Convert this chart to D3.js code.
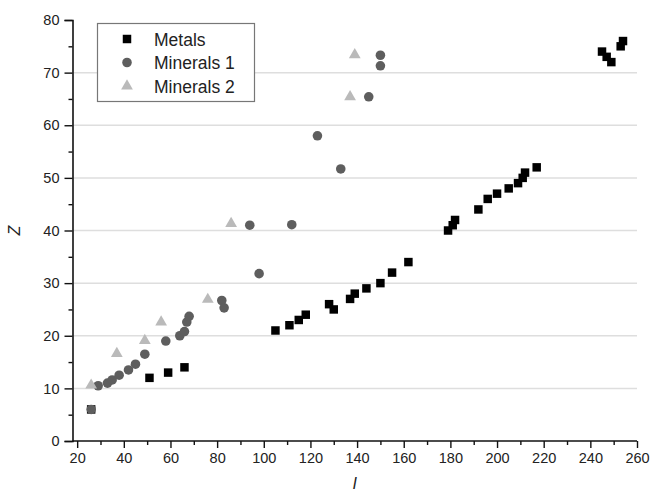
<!DOCTYPE html>
<html>
<head>
<meta charset="utf-8">
<script src="https://cdn.jsdelivr.net/npm/d3@7"></script>
<style>
  html, body { margin: 0; padding: 0; background: #fff; }
  svg { display: block; font-family: "Liberation Sans", Arial, Helvetica, sans-serif; }
</style>
</head>
<body>
<svg id="chart" width="653" height="492"></svg>
<script>
// Series: ionisation-like index I against atomic number Z
const metalsI = [26, 51, 59, 66, 105, 111, 115, 118, 128, 130, 137, 139, 144, 150, 155, 162,
                 179, 181, 182, 192, 196, 200, 205, 209, 211, 212, 217, 245, 247, 249, 253, 254];
const metalsZ = [6, 12, 13, 14, 21, 22, 23, 24, 26, 25, 27, 28, 29, 30, 32, 34,
                 40, 41, 42, 44, 46, 47, 48, 49, 50, 51, 52, 74, 73, 72, 75, 76];

const minerals1I = [26, 29, 33, 35, 38, 42, 45, 49, 58, 64, 66, 67, 68, 82, 83, 94, 98, 112, 123, 133, 145, 150, 150];
const minerals1Z = [6, 10.5, 11, 11.6, 12.5, 13.5, 14.6, 16.5, 19, 20, 20.8, 22.6, 23.7, 26.7, 25.3, 41, 31.8, 41.1, 58, 51.7, 65.4, 71.3, 73.3];

const minerals2I = [26, 37, 49, 56, 76, 86, 137, 139];
const minerals2Z = [10.6, 16.6, 19.1, 22.6, 26.9, 41.3, 65.4, 73.4];

const xTicks = [20, 40, 60, 80, 100, 120, 140, 160, 180, 200, 220, 240, 260];
const xMinor = [30, 50, 70, 90, 110, 130, 150, 170, 190, 210, 230, 250];
const yTicks = [0, 10, 20, 30, 40, 50, 60, 70, 80];
const yMinor = [5, 15, 25, 35, 45, 55, 65, 75];
const gridLines = [10, 20, 30, 40, 50, 60, 70];

const seriesNames = ["Metals", "Minerals 1", "Minerals 2"];
const seriesColors = ["#000000", "#5e5e5e", "#bababa"];
const seriesShapes = [d3.symbolSquare, d3.symbolCircle, d3.symbolTriangle];
const seriesSizes = [72, 72, 60];

const series = [
  metalsI.map((v, i) => ({ x: v, y: metalsZ[i] })),
  minerals1I.map((v, i) => ({ x: v, y: minerals1Z[i] })),
  minerals2I.map((v, i) => ({ x: v, y: minerals2Z[i] }))
];

const svg = d3.select("#chart");
const x = d3.scaleLinear().domain([18, 260]).range([72.5, 637]);
const y = d3.scaleLinear().domain([0, 80]).range([441, 20]);

// horizontal grid
svg.append("g").selectAll("line").data(gridLines).join("line")
  .attr("x1", x(18) + 1).attr("x2", x(260))
  .attr("y1", d => y(d)).attr("y2", d => y(d))
  .attr("stroke", "#dedede").attr("stroke-width", 1.5);

// axes
const xAxis = svg.append("g").attr("transform", `translate(0,${y(0)})`)
  .call(d3.axisBottom(x).tickValues(xTicks).tickSize(7).tickPadding(5).tickFormat(d3.format("d")));
svg.append("g").attr("transform", `translate(0,${y(0)})`)
  .call(d3.axisBottom(x).tickValues(xMinor).tickSize(4).tickFormat(""))
  .select(".domain").remove();
const yAxis = svg.append("g").attr("transform", `translate(${x(18)},0)`)
  .call(d3.axisLeft(y).tickValues(yTicks).tickSize(8).tickPadding(5).tickFormat(d3.format("d")));
svg.append("g").attr("transform", `translate(${x(18)},0)`)
  .call(d3.axisLeft(y).tickValues(yMinor).tickSize(4).tickFormat(""))
  .select(".domain").remove();

svg.selectAll(".domain").attr("stroke", "#111").attr("stroke-width", 1.6);
svg.selectAll(".tick line").attr("stroke", "#111").attr("stroke-width", 1.4);
svg.selectAll(".tick text").attr("font-size", 14.5).attr("fill", "#222")
  .attr("font-family", "'Liberation Sans', Arial, sans-serif");
xAxis.selectAll(".domain").attr("d", `M${x(18)},0H${x(260)}`);

// axis titles
svg.append("text").attr("x", x(139)).attr("y", 489)
  .attr("text-anchor", "middle").attr("font-size", 16).attr("font-style", "italic")
  .attr("fill", "#222").text("I");
svg.append("text").attr("transform", `translate(20,${y(40)}) rotate(-90)`)
  .attr("text-anchor", "middle").attr("font-size", 16).attr("font-style", "italic")
  .attr("fill", "#222").text("Z");

// points
series.forEach((pts, si) => {
  const sym = d3.symbol().type(seriesShapes[si]).size(seriesSizes[si]);
  svg.append("g").selectAll("path").data(pts).join("path")
    .attr("transform", d => `translate(${x(d.x)},${y(d.y)})`)
    .attr("d", sym)
    .attr("fill", seriesColors[si]);
});

// legend
const legend = svg.append("g");
legend.append("rect").attr("x", 97.5).attr("y", 23.5).attr("width", 157).attr("height", 78)
  .attr("fill", "#fff").attr("stroke", "#777").attr("stroke-width", 1.2);
seriesNames.forEach((name, i) => {
  const ly = 39 + i * 23.5;
  legend.append("path").attr("transform", `translate(127,${ly})`)
    .attr("d", d3.symbol().type(seriesShapes[i]).size(seriesSizes[i])())
    .attr("fill", seriesColors[i]);
  legend.append("text").attr("x", 154).attr("y", ly + 6.5)
    .attr("font-size", 17.5).attr("fill", "#222").text(name);
});
</script>
</body>
</html>
